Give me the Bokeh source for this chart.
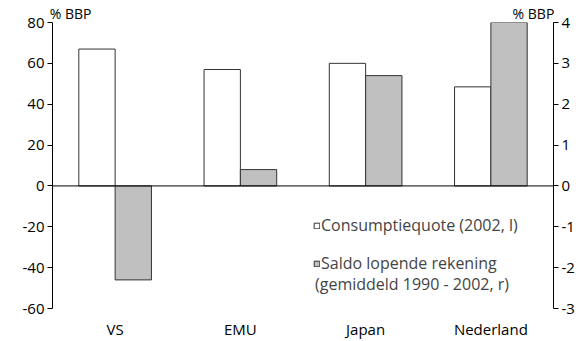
from bokeh.plotting import figure
from bokeh.models import (Range1d, LinearAxis, Span, Legend, LegendItem,
                          FixedTicker, CustomJSTickFormatter)
from bokeh.embed import file_html
from bokeh.resources import INLINE

categories = ["VS", "EMU", "Japan", "Nederland"]
consumptiequote = [67, 57, 60, 48.5]
saldo = [-2.3, 0.4, 2.7, 4.0]
left_ticks = [-60, -40, -20, 0, 20, 40, 60, 80]
right_ticks = [-3, -2, -1, 0, 1, 2, 3, 4]
unit_label = "% BBP"

FONT = "Open Sans"
FS = "15px"

n = len(categories)
centers = [i + 0.5 for i in range(n)]
bw = 0.29

p = figure(width=585, height=341, x_range=Range1d(0, n),
           y_range=Range1d(-60, 80), output_backend="svg", toolbar_location=None,
           min_border_left=52, min_border_right=32, min_border_top=22, min_border_bottom=33,
           x_axis_location=None)
p.extra_y_ranges = {"right": Range1d(-3, 4)}
p.outline_line_color = None
p.xgrid.visible = False
p.ygrid.visible = False

src = dict(xc=[c - bw / 2 for c in centers], xs=[c + bw / 2 for c in centers],
           c=consumptiequote, s=saldo)
r1 = p.vbar(x="xc", top="c", bottom=0, width=bw, source=src,
            fill_color="white", line_color="#333333", line_width=1)
r2 = p.vbar(x="xs", top="s", bottom=0, width=bw, source=src,
            fill_color="#c0c0c0", line_color="#333333", line_width=1, y_range_name="right")
blank = p.vbar(x=[], top=[], width=0.1, fill_alpha=0, line_alpha=0)

p.add_layout(Span(location=0, dimension="width", line_color="black", line_width=1))

fmt = CustomJSTickFormatter(code="return tick.toString();")
la = p.yaxis[0]
la.ticker = FixedTicker(ticks=left_ticks)
ra = LinearAxis(y_range_name="right", ticker=FixedTicker(ticks=right_ticks))
p.add_layout(ra, "right")
for ax in [la, ra]:
    ax.formatter = fmt
    ax.axis_line_color = "black"
    ax.major_tick_line_color = "black"
    ax.major_tick_out = 5
    ax.major_tick_in = 0
    ax.minor_tick_line_color = None
    ax.major_label_text_font = FONT
    ax.major_label_text_font_size = FS
    ax.major_label_text_color = "black"
    ax.major_label_standoff = 3

def bare_axis(ax):
    ax.axis_line_color = None
    ax.major_tick_line_color = None
    ax.major_tick_out = 0
    ax.major_tick_in = 0
    ax.minor_tick_line_color = None
    ax.major_label_text_font = FONT
    ax.major_label_text_color = "black"

xa = LinearAxis(ticker=FixedTicker(ticks=centers),
                major_label_overrides={c: lab for c, lab in zip(centers, categories)})
bare_axis(xa)
xa.major_label_text_font_size = FS
xa.major_label_standoff = 10
p.add_layout(xa, "below")

# unit labels above the two value axes
lpos, rpos = 0.144, 3.84
ta = LinearAxis(ticker=FixedTicker(ticks=[lpos, rpos]),
                major_label_overrides={lpos: unit_label, rpos: unit_label})
bare_axis(ta)
ta.major_label_text_font_size = "14px"
ta.major_label_standoff = 0
p.add_layout(ta, "above")

LFS = "16px"
common = dict(glyph_height=7, label_text_font=FONT, label_text_font_size=LFS,
              padding=0, margin=0, border_line_color=None, background_fill_alpha=0,
              label_height=18, spacing=0, label_text_line_height=1.0)
leg1 = Legend(items=[LegendItem(label="Consumptiequote (2002, l)", renderers=[r1])],
              location=(261, 72), glyph_width=7, label_standoff=1, **common)
leg2 = Legend(items=[LegendItem(label="Saldo lopende rekening", renderers=[r2])],
              location=(261, 34), glyph_width=7, label_standoff=1, **common)
leg3 = Legend(items=[LegendItem(label="(gemiddeld 1990 - 2002, r)", renderers=[blank])],
              location=(261, 13), glyph_width=1, label_standoff=1, **common)
for lg in (leg1, leg2, leg3):
    p.add_layout(lg)

open("out.html", "w").write(file_html(p, INLINE))
